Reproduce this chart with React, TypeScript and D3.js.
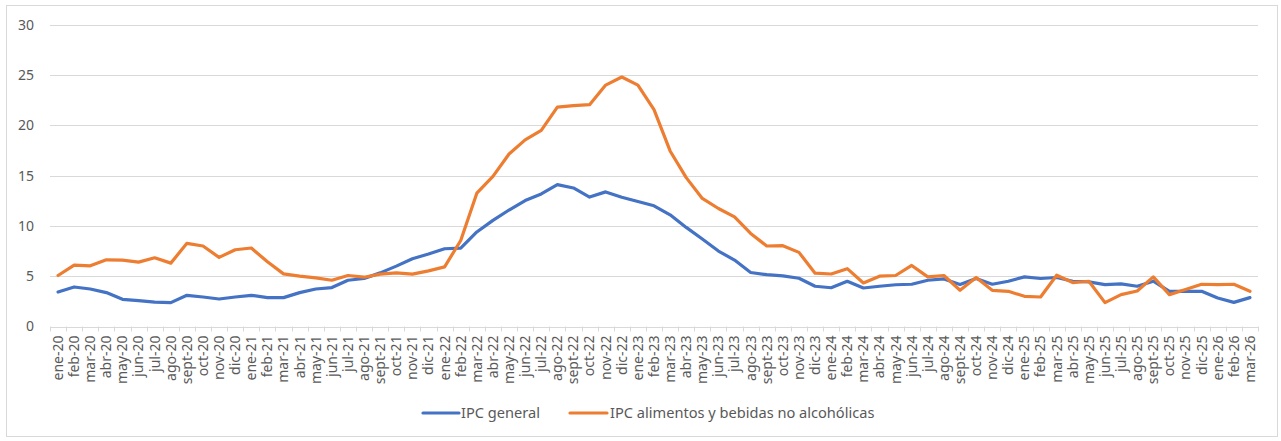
import React from "react";
import * as d3 from "d3";

const months = ["ene", "feb", "mar", "abr", "may", "jun", "jul", "ago", "sept", "oct", "nov", "dic"];
const years = ["20", "21", "22", "23", "24", "25", "26"];

// ene-20 ... mar-26
const categories: string[] = [];
years.forEach((yy) => {
  months.forEach((m, i) => {
    if (yy === "26" && i > 2) return;
    categories.push(`${m}-${yy}`);
  });
});

const ipcGeneral = [
  3.43, 3.93, 3.73, 3.37, 2.7, 2.57, 2.43, 2.37, 3.1, 2.93, 2.73, 2.93,
  3.1, 2.87, 2.87, 3.37, 3.73, 3.87, 4.6, 4.77, 5.33, 6.0, 6.73, 7.2,
  7.73, 7.8, 9.4, 10.55, 11.58, 12.52, 13.18, 14.1, 13.77, 12.87, 13.38, 12.85,
  12.42, 12.0, 11.1, 9.85, 8.7, 7.5, 6.6, 5.37, 5.15, 5.04, 4.8, 4.0,
  3.85, 4.5, 3.83, 4.0, 4.15, 4.2, 4.6, 4.73, 4.17, 4.77, 4.2, 4.5,
  4.93, 4.77, 4.87, 4.5, 4.43, 4.17, 4.23, 4.0, 4.5, 3.5, 3.5, 3.5,
  2.83, 2.4, 2.87,
];

const ipcAlimentos = [
  5.07, 6.1, 6.03, 6.63, 6.6, 6.4, 6.83, 6.3, 8.27, 8.0, 6.87, 7.63,
  7.8, 6.43, 5.23, 5.0, 4.83, 4.6, 5.07, 4.9, 5.2, 5.33, 5.2, 5.53,
  5.93, 8.55, 13.25, 14.92, 17.15, 18.55, 19.5, 21.8, 21.95, 22.05, 24.0, 24.8,
  24.0, 21.55, 17.45, 14.8, 12.73, 11.73, 10.9, 9.25, 8.0, 8.03, 7.37, 5.3,
  5.22, 5.75, 4.33, 5.0, 5.07, 6.07, 4.93, 5.07, 3.6, 4.87, 3.6, 3.5,
  3.0, 2.93, 5.1, 4.37, 4.5, 2.37, 3.17, 3.53, 4.93, 3.17, 3.67, 4.2,
  4.17, 4.2, 3.5,
];

const yTicks = [0, 5, 10, 15, 20, 25, 30];

const seriesNames = ["IPC general", "IPC alimentos y bebidas no alcohólicas"];
const seriesColors = ["#4472C4", "#ED7D31"];

const W = 1281;
const H = 441;
const plot = { left: 50, right: 1258, top: 24.7, bottom: 326.5 };
const font = "'Noto Sans', sans-serif";
const textColor = "#595959";

export default function App() {
  const x = d3
    .scaleBand<string>()
    .domain(categories)
    .range([plot.left, plot.right])
    .padding(0);
  const y = d3.scaleLinear().domain([0, 30]).range([plot.bottom, plot.top]);

  const cx = (i: number) => (x(categories[i]) as number) + x.bandwidth() / 2;

  const line = d3
    .line<number>()
    .x((_, i) => cx(i))
    .y((d) => y(d));

  const series = [ipcGeneral, ipcAlimentos];

  const boundaries = d3.range(categories.length + 1).map((k) => plot.left + k * x.bandwidth());

  return (
    <svg
      width={W}
      height={H}
      style={{ position: "absolute", left: 0, top: 0, background: "#fff" }}
      fontFamily={font}
    >
      <rect x={6.5} y={5.5} width={1271} height={431} fill="#fff" stroke="#d9d9d9" />

      {/* gridlines */}
      {yTicks.map((t) => (
        <line
          key={t}
          x1={plot.left}
          x2={plot.right}
          y1={Math.round(y(t)) + 0.5}
          y2={Math.round(y(t)) + 0.5}
          stroke="#d9d9d9"
          strokeWidth={1}
        />
      ))}
      {yTicks.map((t) => (
        <text
          key={"l" + t}
          x={34}
          y={y(t)}
          dy="0.35em"
          textAnchor="end"
          fontSize={14}
          fill={textColor}
        >
          {t}
        </text>
      ))}

      {/* category ticks */}
      {boundaries.map((bx, k) => (
        <line
          key={"t" + k}
          x1={Math.round(bx) + 0.5}
          x2={Math.round(bx) + 0.5}
          y1={y(0)}
          y2={y(0) + 5}
          stroke="#d9d9d9"
        />
      ))}

      {categories.map((c, i) => (
        <text
          key={c}
          transform={`translate(${cx(i)},${plot.bottom + 9}) rotate(-90)`}
          textAnchor="end"
          dy="0.35em"
          fontSize={14}
          fill={textColor}
        >
          {c}
        </text>
      ))}

      {series.map((s, k) => (
        <path
          key={seriesNames[k]}
          d={line(s) || ""}
          fill="none"
          stroke={seriesColors[k]}
          strokeWidth={3.2}
          strokeLinejoin="round"
          strokeLinecap="round"
        />
      ))}

      {/* legend */}
      <g>
        <line x1={423} x2={459} y1={413} y2={413} stroke={seriesColors[0]} strokeWidth={3.2} strokeLinecap="round" />
        <text x={461} y={413} dy="0.35em" fontSize={14.6} fill={textColor}>
          {seriesNames[0]}
        </text>
        <line x1={570} x2={607} y1={413} y2={413} stroke={seriesColors[1]} strokeWidth={3.2} strokeLinecap="round" />
        <text x={610} y={413} dy="0.35em" fontSize={14.6} fill={textColor}>
          {seriesNames[1]}
        </text>
      </g>
    </svg>
  );
}
